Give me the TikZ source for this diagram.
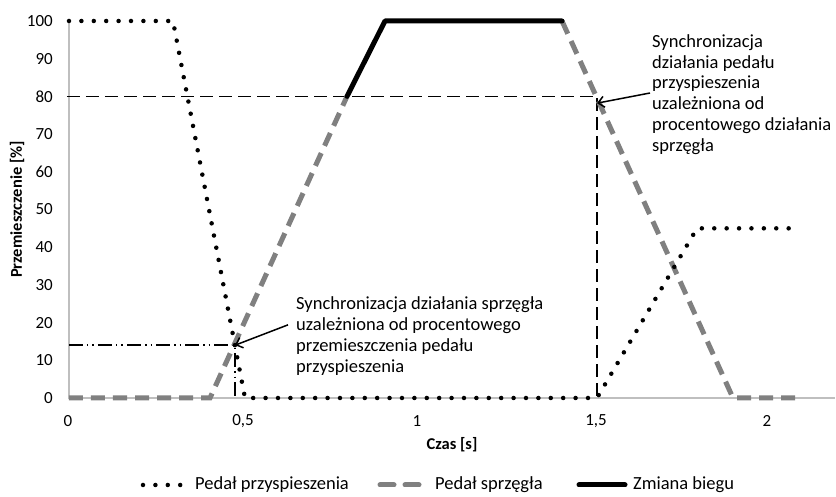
\documentclass[tikz,border=0pt]{standalone}
\usepackage{fontspec}
\setmainfont{Carlito}
\usetikzlibrary{arrows,arrows.meta,positioning}
\definecolor{clutch}{RGB}{128,128,128}
\definecolor{axisgray}{RGB}{191,191,191}
\def\Ytitle{Przemieszczenie [\%]}

\begin{document}
\begin{tikzpicture}[x=1pt,y=3.77pt,% x in pt from the origin, y in percent
      every node/.style={
        inner sep=0pt     % text sits exactly where it is placed
      },
      tick/.style={font=\fontsize{17}{20}\selectfont},
      axtitle/.style={font=\fontsize{16.5}{20}\selectfont\bfseries},
      note/.style={align=left,anchor=north west,
        font=\fontsize{18.5}{20.8}\selectfont},
      legendtext/.style={anchor=west,font=\fontsize{18.5}{20}\selectfont},
      pedal/.style={line width=4.5pt,line cap=round,dash pattern=on 0pt off 12.4pt},
      clutchline/.style={draw=clutch,line width=5pt,dash pattern=on 14pt off 8pt},
      gearline/.style={line width=5pt,line cap=round,line join=round},
      guide/.style={line width=1.6pt,dash pattern=on 13pt off 6pt},
      guidedd/.style={line width=1.5pt,dash pattern=on 14pt off 4pt on 1.5pt off 4pt on 1.5pt off 4pt},
      every edge/.style={draw,line width=1.5pt,-{Straight Barb[length=6pt,width=11pt]}}
    ]
    \useasboundingbox (-69pt,-99pt) rectangle (767pt,398pt);
    % axes
    \draw[axisgray,line width=1.3pt] (0,100) -- (0,0) -- (766pt,0);
    \foreach \v in {0,10,...,100}
      \node[tick,anchor=east] (Y\v) at (-16pt,\v) {\v};
    \foreach \p/\l in {-1/0, 174/{0,5}, 348/1, 527/{1,5}, 698/2}
      \node[tick] (X\p) at (\p pt,-23pt) {\l};
    \node[axtitle,rotate=90] (YT) at (-52pt,50) {\Ytitle};
    \node[axtitle] (XT) at (383pt,-47pt) {Czas [s]};
    % guide lines
    \draw[guide] (-2pt,80) -- (528pt,80) -- (528pt,0);
    \draw[guidedd] (0,14) -- (166pt,14) -- (166pt,0);
    % curves
    \draw[clutchline] (0,0) -- (141pt,0) -- (278pt,80);
    \draw[clutchline] (493pt,100) -- (664pt,0) -- (726pt,0);
    \draw[gearline] (278pt,80) -- (316pt,100) -- (493pt,100);
    \draw[pedal] (0,100) -- (104pt,100) -- (176pt,0) -- (528pt,0)
      -- (628pt,45) -- (726pt,45);
    % notes
    \node[note] (N1) at (227pt,101.3pt) {Synchronizacja działania sprzęgła\\
      uzależniona od procentowego\\ przemieszczenia pedału\\ przyspieszenia};
    \node[note] (N2) at (583pt,363.8pt) {Synchronizacja\\ działania pedału\\
      przyspieszenia\\ uzależniona od\\ procentowego działania\\ sprzęgła};
    \coordinate (A1) at (219pt,19.4);
    \coordinate (P1) at (166pt,14);
    \coordinate (A2) at (581pt,80.9);
    \coordinate (P2) at (528pt,78.2);
    \path
    (A1)edge [] node [] {} (P1)
    (A2)edge [] node [] {} (P2)
    ;
    % legend
    \draw[pedal] (74pt,-87pt) -- (112pt,-87pt);
    \node[legendtext] (L1) at (126pt,-87pt) {Pedał przyspieszenia};
    \draw[clutch,line width=5pt,line cap=round,dash pattern=on 14pt off 11pt]
      (311pt,-87pt) -- (352pt,-87pt);
    \node[legendtext] (L2) at (366pt,-87pt) {Pedał sprzęgła};
    \draw[gearline] (510pt,-87pt) -- (556pt,-87pt);
    \node[legendtext] (L3) at (564pt,-87pt) {Zmiana biegu};
  \end{tikzpicture}
\end{document}
